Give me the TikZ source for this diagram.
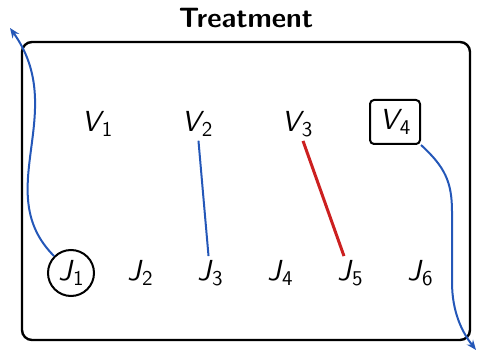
\documentclass[tikz,border=0pt]{standalone}
\usetikzlibrary{arrows.meta}
\definecolor{myblue}{HTML}{2457B8}
\definecolor{myred}{HTML}{CC2020}
\newcommand\lab[2]{{\sffamily\itshape #1}\kern0.05em\raisebox{-0.35ex}{\sffamily\fontsize{10.5}{12}\selectfont #2}}
\tikzset{
  lbl/.style={font=\sffamily\fontsize{14.5}{16}\selectfont, inner sep=2pt},
  bluearrow/.style={myblue, line width=1pt, -{Stealth[length=5pt,width=4pt]}},
}
\begin{document}
\begin{tikzpicture}[x=0.5pt,y=0.5pt]
\useasboundingbox (0,0) rectangle (480,352);
\draw[line width=1.2pt, rounded corners=5pt] (22,12) rectangle (470,310);
\node[font=\sffamily\bfseries\fontsize{14}{16}\selectfont] (title) at (246,334) {Treatment};
\node[lbl] (V1) at (97,228) {\lab{V}{1}};
\node[lbl] (V2) at (197,228) {\lab{V}{2}};
\node[lbl] (V3) at (297,228) {\lab{V}{3}};
\node[lbl, draw, line width=1pt, rounded corners=2pt, minimum width=25pt, minimum height=22pt] (V4) at (395,230) {\lab{V}{4}};
\node[lbl, draw, circle, line width=1pt, minimum size=23pt, inner sep=0pt] (J1) at (71,79) {\lab{J}{1}};
\node[lbl] (J2) at (140,79) {\lab{J}{2}};
\node[lbl] (J3) at (210,79) {\lab{J}{3}};
\node[lbl] (J4) at (280,79) {\lab{J}{4}};
\node[lbl] (J5) at (350,79) {\lab{J}{5}};
\node[lbl] (J6) at (420,79) {\lab{J}{6}};
\coordinate (tl) at (10,324);
\coordinate (br) at (476,2);
\draw[myblue, line width=1pt] (V2) -- (J3);
\draw[myred, line width=1.5pt] (V3) -- (J5);
\draw[bluearrow] (J1.135) .. controls (-10,160) and (70,240) .. (tl);
\draw[bluearrow] (V4.south east) .. controls (445,185) and (452,170) .. (452,140) -- (452,70) .. controls (452,40) and (462,20) .. (br);
\end{tikzpicture}
\end{document}
